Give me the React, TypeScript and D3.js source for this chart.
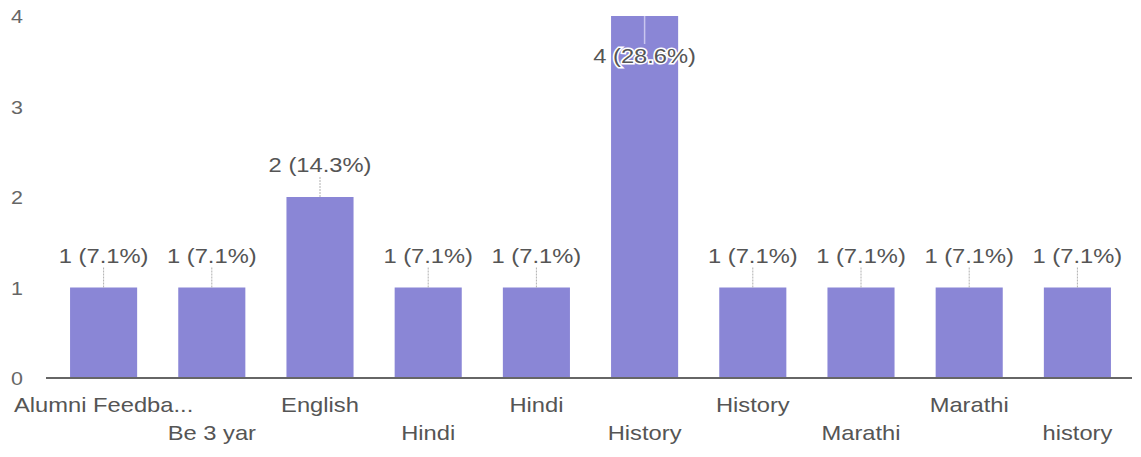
import React from "react";
import * as d3 from "d3";

const categories = [
  "Alumni Feedba...",
  "Be 3 yar",
  "English",
  "Hindi",
  "Hindi",
  "History",
  "History",
  "Marathi",
  "Marathi",
  "history",
];
const values = [1, 1, 2, 1, 1, 4, 1, 1, 1, 1];
const labels = [
  "1 (7.1%)",
  "1 (7.1%)",
  "2 (14.3%)",
  "1 (7.1%)",
  "1 (7.1%)",
  "4 (28.6%)",
  "1 (7.1%)",
  "1 (7.1%)",
  "1 (7.1%)",
  "1 (7.1%)",
];
const yTicks = [0, 1, 2, 3, 4];

const W = 1141;
const H = 457;
const FONT = "'Liberation Sans', Arial, sans-serif";
const SX = 1.13;

function T(props: {
  x: number;
  y: number;
  anchor?: "start" | "middle" | "end";
  size: number;
  fill: string;
  halo?: boolean;
  children: React.ReactNode;
}) {
  return (
    <g transform={`translate(${props.x},${props.y}) scale(${SX},1)`}>
      <text
        x={0}
        y={0}
        textAnchor={props.anchor || "start"}
        fontFamily={FONT}
        fontSize={props.size}
        fill={props.fill}
        stroke={props.halo ? "#fff" : "none"}
        strokeWidth={props.halo ? 3 : 0}
        paintOrder="stroke"
      >
        {props.children}
      </text>
    </g>
  );
}

export default function App() {
  const x = d3
    .scaleBand<number>()
    .domain(d3.range(categories.length))
    .range([49.5, 1131.5])
    .paddingInner(0.38)
    .paddingOuter(0.19);
  const y = d3.scaleLinear().domain([0, 4]).range([378, 16]);
  const bw = x.bandwidth();

  return (
    <div style={{ position: "fixed", left: 0, top: 0 }}>
      <svg width={W} height={H} style={{ display: "block", background: "#fff" }}>
        {yTicks.map((t) => (
          <T key={"yt" + t} x={11} y={y(t) + 7} size={19} fill="#666">
            {t}
          </T>
        ))}
        {values.map((v, i) => {
          const x0 = x(i)!;
          const cx = x0 + bw / 2;
          const top = y(v);
          const inside = top < 60;
          const ly = inside ? top + 47 : top - 25;
          return (
            <g key={"b" + i}>
              <rect x={x0} y={top} width={bw} height={y(0) - top} fill="#8a86d6" />
              {inside ? (
                <line x1={cx} x2={cx} y1={top} y2={top + 28} stroke="#c9c6ef" strokeWidth={1.5} />
              ) : (
                <line
                  x1={cx}
                  x2={cx}
                  y1={top - 20}
                  y2={top}
                  stroke="#b0b0b0"
                  strokeWidth={1}
                  strokeDasharray="2,1"
                />
              )}
              <T x={cx} y={ly} anchor="middle" size={21} fill="#555" halo={inside}>
                {labels[i]}
              </T>
            </g>
          );
        })}
        <line x1={46} x2={1132} y1={y(0)} y2={y(0)} stroke="#666" strokeWidth={2} />
        {categories.map((c, i) => (
          <T
            key={"xl" + i}
            x={x(i)! + bw / 2}
            y={i % 2 === 0 ? 412 : 440}
            anchor="middle"
            size={21}
            fill="#555"
          >
            {c}
          </T>
        ))}
      </svg>
    </div>
  );
}
